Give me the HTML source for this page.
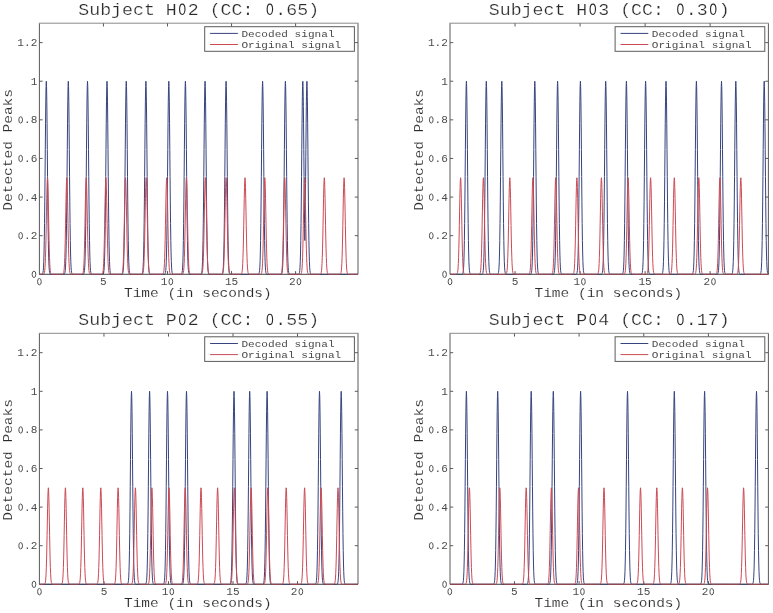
<!DOCTYPE html><html><head><meta charset="utf-8"><style>html,body{margin:0;padding:0;background:#fff;overflow:hidden}svg{display:block}text{font-family:"Liberation Mono",monospace;paint-order:fill stroke}</style></head><body>
<svg width="773" height="613" viewBox="0 0 773 613">
<rect width="773" height="613" fill="#fff"/>
<defs><filter id="soft" x="0" y="0" width="1" height="1"><feGaussianBlur stdDeviation="0.35"/></filter></defs><g filter="url(#soft)"><rect width="773" height="613" fill="#fff"/>
<g><path d="M39.4 23.3V274.3H358V23.3" fill="none" stroke="#5a5a5a" stroke-width="1" stroke-linejoin="miter"/><path d="M38.9 23.2H358.5" fill="none" stroke="#8a8a8a" stroke-width="1"/><path d="M103.44 274.3V271.1M103.44 23.3V26.5M167.49 274.3V271.1M167.49 23.3V26.5M231.55 274.3V271.1M231.55 23.3V26.5M295.6 274.3V271.1M295.6 23.3V26.5M39.4 235.68H42.6M358 235.68H354.8M39.4 197.07H42.6M358 197.07H354.8M39.4 158.45H42.6M358 158.45H354.8M39.4 119.84H42.6M358 119.84H354.8M39.4 81.22H42.6M358 81.22H354.8M39.4 42.61H42.6M358 42.61H354.8" stroke="#5a5a5a" stroke-width="1" fill="none"/><path d="M39.4 274.3L41.76 274.27L42.02 274.23L42.27 274.12L42.52 273.88L42.77 273.37L43.02 272.36L43.28 270.47L43.53 267.14L43.78 261.61L44.03 253.01L44.28 240.49L44.54 223.43L44.79 201.84L45.04 176.54L45.29 149.4L45.54 123.18L45.8 101.14L46.05 86.41L46.3 81.22L46.55 86.41L46.8 101.14L47.06 123.18L47.31 149.4L47.56 176.54L47.81 201.84L48.06 223.43L48.32 240.49L48.57 253.01L48.82 261.61L49.07 267.14L49.32 270.47L49.58 272.36L49.83 273.37L50.08 273.88L50.33 274.12L50.58 274.23L50.84 274.3L63.76 274.27L64.02 274.23L64.27 274.12L64.52 273.88L64.77 273.37L65.02 272.36L65.28 270.47L65.53 267.14L65.78 261.61L66.03 253.01L66.28 240.49L66.54 223.43L66.79 201.84L67.04 176.54L67.29 149.4L67.54 123.18L67.8 101.14L68.05 86.41L68.3 81.22L68.55 86.41L68.8 101.14L69.06 123.18L69.31 149.4L69.56 176.54L69.81 201.84L70.06 223.43L70.32 240.49L70.57 253.01L70.82 261.61L71.07 267.14L71.32 270.47L71.58 272.36L71.83 273.37L72.08 273.88L72.33 274.12L72.58 274.23L72.84 274.3L82.96 274.3L83.22 274.23L83.47 274.12L83.72 273.88L83.97 273.37L84.22 272.36L84.48 270.47L84.73 267.14L84.98 261.61L85.23 253.01L85.48 240.49L85.74 223.43L85.99 201.84L86.24 176.54L86.49 149.4L86.74 123.18L87 101.14L87.25 86.41L87.5 81.22L87.75 86.41L88 101.14L88.26 123.18L88.51 149.4L88.76 176.54L89.01 201.84L89.26 223.43L89.52 240.49L89.77 253.01L90.02 261.61L90.27 267.14L90.52 270.47L90.78 272.36L91.03 273.37L91.28 273.88L91.53 274.12L91.78 274.23L92.04 274.3L102.46 274.3L102.72 274.23L102.97 274.12L103.22 273.88L103.47 273.37L103.72 272.36L103.98 270.47L104.23 267.14L104.48 261.61L104.73 253.01L104.98 240.49L105.24 223.43L105.49 201.84L105.74 176.54L105.99 149.4L106.24 123.18L106.5 101.14L106.75 86.41L107 81.22L107.25 86.41L107.5 101.14L107.76 123.18L108.01 149.4L108.26 176.54L108.51 201.84L108.76 223.43L109.02 240.49L109.27 253.01L109.52 261.61L109.77 267.14L110.02 270.47L110.28 272.36L110.53 273.37L110.78 273.88L111.03 274.12L111.28 274.23L111.54 274.3L121.71 274.3L121.97 274.23L122.22 274.12L122.47 273.88L122.72 273.37L122.97 272.36L123.23 270.47L123.48 267.14L123.73 261.61L123.98 253.01L124.23 240.49L124.49 223.43L124.74 201.84L124.99 176.54L125.24 149.4L125.49 123.18L125.75 101.14L126 86.41L126.25 81.22L126.5 86.41L126.75 101.14L127.01 123.18L127.26 149.4L127.51 176.54L127.76 201.84L128.01 223.43L128.27 240.49L128.52 253.01L128.77 261.61L129.02 267.14L129.27 270.47L129.53 272.36L129.78 273.37L130.03 273.88L130.28 274.12L130.53 274.23L130.79 274.3L141.36 274.3L141.62 274.23L141.87 274.12L142.12 273.88L142.37 273.37L142.62 272.36L142.88 270.47L143.13 267.14L143.38 261.61L143.63 253.01L143.88 240.49L144.14 223.43L144.39 201.84L144.64 176.54L144.89 149.4L145.14 123.18L145.4 101.14L145.65 86.41L145.9 81.22L146.15 86.41L146.4 101.14L146.66 123.18L146.91 149.4L147.16 176.54L147.41 201.84L147.66 223.43L147.92 240.49L148.17 253.01L148.42 261.61L148.67 267.14L148.92 270.47L149.18 272.36L149.43 273.37L149.68 273.88L149.93 274.12L150.18 274.23L150.44 274.3L164.26 274.3L164.52 274.23L164.77 274.12L165.02 273.88L165.27 273.37L165.52 272.36L165.78 270.47L166.03 267.14L166.28 261.61L166.53 253.01L166.78 240.49L167.04 223.43L167.29 201.84L167.54 176.54L167.79 149.4L168.04 123.18L168.3 101.14L168.55 86.41L168.8 81.22L169.05 86.41L169.3 101.14L169.56 123.18L169.81 149.4L170.06 176.54L170.31 201.84L170.56 223.43L170.82 240.49L171.07 253.01L171.32 261.61L171.57 267.14L171.82 270.47L172.08 272.36L172.33 273.37L172.58 273.88L172.83 274.12L173.08 274.23L173.34 274.3L180.86 274.3L181.12 274.23L181.37 274.12L181.62 273.88L181.87 273.37L182.12 272.36L182.38 270.47L182.63 267.14L182.88 261.61L183.13 253.01L183.38 240.49L183.64 223.43L183.89 201.84L184.14 176.54L184.39 149.4L184.64 123.18L184.9 101.14L185.15 86.41L185.4 81.22L185.65 86.41L185.9 101.14L186.16 123.18L186.41 149.4L186.66 176.54L186.91 201.84L187.16 223.43L187.42 240.49L187.67 253.01L187.92 261.61L188.17 267.14L188.42 270.47L188.68 272.36L188.93 273.37L189.18 273.88L189.43 274.12L189.68 274.23L189.94 274.3L200.51 274.3L200.77 274.23L201.02 274.12L201.27 273.88L201.52 273.37L201.77 272.36L202.03 270.47L202.28 267.14L202.53 261.61L202.78 253.01L203.03 240.49L203.29 223.43L203.54 201.84L203.79 176.54L204.04 149.4L204.29 123.18L204.55 101.14L204.8 86.41L205.05 81.22L205.3 86.41L205.55 101.14L205.81 123.18L206.06 149.4L206.31 176.54L206.56 201.84L206.81 223.43L207.07 240.49L207.32 253.01L207.57 261.61L207.82 267.14L208.07 270.47L208.33 272.36L208.58 273.37L208.83 273.88L209.08 274.12L209.33 274.23L209.59 274.3L221.53 274.3L221.79 274.23L222.04 274.12L222.29 273.88L222.54 273.37L222.79 272.36L223.05 270.47L223.3 267.14L223.55 261.61L223.8 253.01L224.05 240.49L224.31 223.43L224.56 201.84L224.81 176.54L225.06 149.4L225.31 123.18L225.57 101.14L225.82 86.41L226.07 81.22L226.32 86.41L226.57 101.14L226.83 123.18L227.08 149.4L227.33 176.54L227.58 201.84L227.83 223.43L228.09 240.49L228.34 253.01L228.59 261.61L228.84 267.14L229.09 270.47L229.35 272.36L229.6 273.37L229.85 273.88L230.1 274.12L230.35 274.23L230.61 274.3L258.06 274.3L258.32 274.23L258.57 274.12L258.82 273.88L259.07 273.37L259.32 272.36L259.58 270.47L259.83 267.14L260.08 261.61L260.33 253.01L260.58 240.49L260.84 223.43L261.09 201.84L261.34 176.54L261.59 149.4L261.84 123.18L262.1 101.14L262.35 86.41L262.6 81.22L262.85 86.41L263.1 101.14L263.36 123.18L263.61 149.4L263.86 176.54L264.11 201.84L264.36 223.43L264.62 240.49L264.87 253.01L265.12 261.61L265.37 267.14L265.62 270.47L265.88 272.36L266.13 273.37L266.38 273.88L266.63 274.12L266.88 274.23L267.14 274.3L280.86 274.3L281.12 274.23L281.37 274.12L281.62 273.88L281.87 273.37L282.12 272.36L282.38 270.47L282.63 267.14L282.88 261.61L283.13 253.01L283.38 240.49L283.64 223.43L283.89 201.84L284.14 176.54L284.39 149.4L284.64 123.18L284.9 101.14L285.15 86.41L285.4 81.22L285.65 86.41L285.9 101.14L286.16 123.18L286.41 149.4L286.66 176.54L286.91 201.84L287.16 223.43L287.42 240.49L287.67 253.01L287.92 261.61L288.17 267.14L288.42 270.47L288.68 272.36L288.93 273.37L289.18 273.88L289.43 274.12L289.68 274.23L289.94 274.3L298.26 274.3L298.52 274.23L298.77 274.12L299.02 273.88L299.27 273.37L299.52 272.36L299.78 270.47L300.03 267.14L300.28 261.61L300.53 253.01L300.78 240.49L301.04 223.43L301.29 201.84L301.54 176.54L301.79 149.4L302.04 123.18L302.3 101.14L302.36 96.33L302.55 86.41L302.62 84L302.8 81.22L302.87 81.61L303.05 86.41L303.12 89.52L303.3 101.14L303.37 106.49L303.56 123.18L303.62 129.98L303.81 149.4L303.88 156.76L304.06 176.54L304.13 183.64L304.31 201.84L304.38 208.08L304.56 223.43L304.63 228.5L304.82 240.49L304.88 240.49L305.07 228.5L305.14 223.43L305.32 208.08L305.39 201.84L305.57 183.64L305.64 176.54L305.82 156.76L305.89 149.4L306.08 129.98L306.14 123.18L306.33 106.49L306.4 101.14L306.58 89.52L306.65 86.41L306.83 81.61L306.9 81.22L307.08 84L307.15 86.41L307.34 96.33L307.4 101.14L307.66 123.18L307.91 149.4L308.16 176.54L308.41 201.84L308.66 223.43L308.92 240.49L309.17 253.01L309.42 261.61L309.67 267.14L309.92 270.47L310.18 272.36L310.43 273.37L310.68 273.88L310.93 274.12L311.18 274.23L311.44 274.3L358 274.3" stroke="#36447f" stroke-width="1" fill="none" stroke-linejoin="round"/><path d="M39.4 274.3L42.96 274.3L43.22 274.26L43.47 274.21L43.72 274.09L43.97 273.83L44.22 273.33L44.48 272.38L44.73 270.72L44.98 267.95L45.23 263.66L45.48 257.39L45.74 248.87L45.99 238.07L46.24 225.42L46.49 211.85L46.74 198.74L47 187.72L47.25 180.35L47.5 177.76L47.75 180.35L48 187.72L48.26 198.74L48.51 211.85L48.76 225.42L49.01 238.07L49.26 248.87L49.52 257.39L49.77 263.66L50.02 267.95L50.27 270.72L50.52 272.38L50.78 273.33L51.03 273.83L51.28 274.09L51.53 274.21L51.78 274.26L52.04 274.3L62.26 274.29L62.52 274.26L62.77 274.21L63.02 274.09L63.27 273.83L63.52 273.33L63.78 272.38L64.03 270.72L64.28 267.95L64.53 263.66L64.78 257.39L65.04 248.87L65.29 238.07L65.54 225.42L65.79 211.85L66.04 198.74L66.3 187.72L66.55 180.35L66.8 177.76L67.05 180.35L67.3 187.72L67.56 198.74L67.81 211.85L68.06 225.42L68.31 238.07L68.56 248.87L68.82 257.39L69.07 263.66L69.32 267.95L69.57 270.72L69.82 272.38L70.08 273.33L70.33 273.83L70.58 274.09L70.83 274.21L71.08 274.26L71.34 274.3L81.66 274.3L81.92 274.26L82.17 274.21L82.42 274.09L82.67 273.83L82.92 273.33L83.18 272.38L83.43 270.72L83.68 267.95L83.93 263.66L84.18 257.39L84.44 248.87L84.69 238.07L84.94 225.42L85.19 211.85L85.44 198.74L85.7 187.72L85.95 180.35L86.2 177.76L86.45 180.35L86.7 187.72L86.96 198.74L87.21 211.85L87.46 225.42L87.71 238.07L87.96 248.87L88.22 257.39L88.47 263.66L88.72 267.95L88.97 270.72L89.22 272.38L89.48 273.33L89.73 273.83L89.98 274.09L90.23 274.21L90.48 274.26L90.74 274.3L101.36 274.3L101.62 274.26L101.87 274.21L102.12 274.09L102.37 273.83L102.62 273.33L102.88 272.38L103.13 270.72L103.38 267.95L103.63 263.66L103.88 257.39L104.14 248.87L104.39 238.07L104.64 225.42L104.89 211.85L105.14 198.74L105.4 187.72L105.65 180.35L105.9 177.76L106.15 180.35L106.4 187.72L106.66 198.74L106.91 211.85L107.16 225.42L107.41 238.07L107.66 248.87L107.92 257.39L108.17 263.66L108.42 267.95L108.67 270.72L108.92 272.38L109.18 273.33L109.43 273.83L109.68 274.09L109.93 274.21L110.18 274.26L110.44 274.3L120.96 274.3L121.22 274.26L121.47 274.21L121.72 274.09L121.97 273.83L122.22 273.33L122.48 272.38L122.73 270.72L122.98 267.95L123.23 263.66L123.48 257.39L123.74 248.87L123.99 238.07L124.24 225.42L124.49 211.85L124.74 198.74L125 187.72L125.25 180.35L125.5 177.76L125.75 180.35L126 187.72L126.26 198.74L126.51 211.85L126.76 225.42L127.01 238.07L127.26 248.87L127.52 257.39L127.77 263.66L128.02 267.95L128.27 270.72L128.52 272.38L128.78 273.33L129.03 273.83L129.28 274.09L129.53 274.21L129.78 274.26L130.04 274.3L141.66 274.3L141.92 274.26L142.17 274.21L142.42 274.09L142.67 273.83L142.92 273.33L143.18 272.38L143.43 270.72L143.68 267.95L143.93 263.66L144.18 257.39L144.44 248.87L144.69 238.07L144.94 225.42L145.19 211.85L145.44 198.74L145.7 187.72L145.95 180.35L146.2 177.76L146.45 180.35L146.7 187.72L146.96 198.74L147.21 211.85L147.46 225.42L147.71 238.07L147.96 248.87L148.22 257.39L148.47 263.66L148.72 267.95L148.97 270.72L149.22 272.38L149.48 273.33L149.73 273.83L149.98 274.09L150.23 274.21L150.48 274.26L150.74 274.3L162.16 274.3L162.42 274.26L162.67 274.21L162.92 274.09L163.17 273.83L163.42 273.33L163.68 272.38L163.93 270.72L164.18 267.95L164.43 263.66L164.68 257.39L164.94 248.87L165.19 238.07L165.44 225.42L165.69 211.85L165.94 198.74L166.2 187.72L166.45 180.35L166.7 177.76L166.95 180.35L167.2 187.72L167.46 198.74L167.71 211.85L167.96 225.42L168.21 238.07L168.46 248.87L168.72 257.39L168.97 263.66L169.22 267.95L169.47 270.72L169.72 272.38L169.98 273.33L170.23 273.83L170.48 274.09L170.73 274.21L170.98 274.26L171.24 274.3L181.86 274.3L182.12 274.26L182.37 274.21L182.62 274.09L182.87 273.83L183.12 273.33L183.38 272.38L183.63 270.72L183.88 267.95L184.13 263.66L184.38 257.39L184.64 248.87L184.89 238.07L185.14 225.42L185.39 211.85L185.64 198.74L185.9 187.72L186.15 180.35L186.4 177.76L186.65 180.35L186.9 187.72L187.16 198.74L187.41 211.85L187.66 225.42L187.91 238.07L188.16 248.87L188.42 257.39L188.67 263.66L188.92 267.95L189.17 270.72L189.42 272.38L189.68 273.33L189.93 273.83L190.18 274.09L190.43 274.21L190.68 274.26L190.94 274.3L200.86 274.3L201.12 274.26L201.37 274.21L201.62 274.09L201.87 273.83L202.12 273.33L202.38 272.38L202.63 270.72L202.88 267.95L203.13 263.66L203.38 257.39L203.64 248.87L203.89 238.07L204.14 225.42L204.39 211.85L204.64 198.74L204.9 187.72L205.15 180.35L205.4 177.76L205.65 180.35L205.9 187.72L206.16 198.74L206.41 211.85L206.66 225.42L206.91 238.07L207.16 248.87L207.42 257.39L207.67 263.66L207.92 267.95L208.17 270.72L208.42 272.38L208.68 273.33L208.93 273.83L209.18 274.09L209.43 274.21L209.68 274.26L209.94 274.3L221.56 274.3L221.82 274.26L222.07 274.21L222.32 274.09L222.57 273.83L222.82 273.33L223.08 272.38L223.33 270.72L223.58 267.95L223.83 263.66L224.08 257.39L224.34 248.87L224.59 238.07L224.84 225.42L225.09 211.85L225.34 198.74L225.6 187.72L225.85 180.35L226.1 177.76L226.35 180.35L226.6 187.72L226.86 198.74L227.11 211.85L227.36 225.42L227.61 238.07L227.86 248.87L228.12 257.39L228.37 263.66L228.62 267.95L228.87 270.72L229.12 272.38L229.38 273.33L229.63 273.83L229.88 274.09L230.13 274.21L230.38 274.26L230.64 274.3L240.46 274.3L240.72 274.26L240.97 274.21L241.22 274.09L241.47 273.83L241.72 273.33L241.98 272.38L242.23 270.72L242.48 267.95L242.73 263.66L242.98 257.39L243.24 248.87L243.49 238.07L243.74 225.42L243.99 211.85L244.24 198.74L244.5 187.72L244.75 180.35L245 177.76L245.25 180.35L245.5 187.72L245.76 198.74L246.01 211.85L246.26 225.42L246.51 238.07L246.76 248.87L247.02 257.39L247.27 263.66L247.52 267.95L247.77 270.72L248.02 272.38L248.28 273.33L248.53 273.83L248.78 274.09L249.03 274.21L249.28 274.26L249.54 274.3L260.26 274.3L260.52 274.26L260.77 274.21L261.02 274.09L261.27 273.83L261.52 273.33L261.78 272.38L262.03 270.72L262.28 267.95L262.53 263.66L262.78 257.39L263.04 248.87L263.29 238.07L263.54 225.42L263.79 211.85L264.04 198.74L264.3 187.72L264.55 180.35L264.8 177.76L265.05 180.35L265.3 187.72L265.56 198.74L265.81 211.85L266.06 225.42L266.31 238.07L266.56 248.87L266.82 257.39L267.07 263.66L267.32 267.95L267.57 270.72L267.82 272.38L268.08 273.33L268.33 273.83L268.58 274.09L268.83 274.21L269.08 274.26L269.34 274.3L280.16 274.3L280.42 274.26L280.67 274.21L280.92 274.09L281.17 273.83L281.42 273.33L281.68 272.38L281.93 270.72L282.18 267.95L282.43 263.66L282.68 257.39L282.94 248.87L283.19 238.07L283.44 225.42L283.69 211.85L283.94 198.74L284.2 187.72L284.45 180.35L284.7 177.76L284.95 180.35L285.2 187.72L285.46 198.74L285.71 211.85L285.96 225.42L286.21 238.07L286.46 248.87L286.72 257.39L286.97 263.66L287.22 267.95L287.47 270.72L287.72 272.38L287.98 273.33L288.23 273.83L288.48 274.09L288.73 274.21L288.98 274.26L289.24 274.3L300.06 274.3L300.32 274.26L300.57 274.21L300.82 274.09L301.07 273.83L301.32 273.33L301.58 272.38L301.83 270.72L302.08 267.95L302.33 263.66L302.58 257.39L302.84 248.87L303.09 238.07L303.34 225.42L303.59 211.85L303.84 198.74L304.1 187.72L304.35 180.35L304.6 177.76L304.85 180.35L305.1 187.72L305.36 198.74L305.61 211.85L305.86 225.42L306.11 238.07L306.36 248.87L306.62 257.39L306.87 263.66L307.12 267.95L307.37 270.72L307.62 272.38L307.88 273.33L308.13 273.83L308.38 274.09L308.63 274.21L308.88 274.26L309.14 274.3L319.76 274.3L320.02 274.26L320.27 274.21L320.52 274.09L320.77 273.83L321.02 273.33L321.28 272.38L321.53 270.72L321.78 267.95L322.03 263.66L322.28 257.39L322.54 248.87L322.79 238.07L323.04 225.42L323.29 211.85L323.54 198.74L323.8 187.72L324.05 180.35L324.3 177.76L324.55 180.35L324.8 187.72L325.06 198.74L325.31 211.85L325.56 225.42L325.81 238.07L326.06 248.87L326.32 257.39L326.57 263.66L326.82 267.95L327.07 270.72L327.32 272.38L327.58 273.33L327.83 273.83L328.08 274.09L328.33 274.21L328.58 274.26L328.84 274.3L339.56 274.3L339.82 274.26L340.07 274.21L340.32 274.09L340.57 273.83L340.82 273.33L341.08 272.38L341.33 270.72L341.58 267.95L341.83 263.66L342.08 257.39L342.34 248.87L342.59 238.07L342.84 225.42L343.09 211.85L343.34 198.74L343.6 187.72L343.85 180.35L344.1 177.76L344.35 180.35L344.6 187.72L344.86 198.74L345.11 211.85L345.36 225.42L345.61 238.07L345.86 248.87L346.12 257.39L346.37 263.66L346.62 267.95L346.87 270.72L347.12 272.38L347.38 273.33L347.63 273.83L347.88 274.09L348.13 274.21L348.38 274.26L348.64 274.3L358 274.3" stroke="#cc4a54" stroke-width="1" fill="none" stroke-linejoin="round"/><path d="M39.4 274.3H358" stroke="#444" stroke-opacity="0.4" stroke-width="1"/><ellipse cx="33.97" cy="274.35" rx="1.85" ry="3.2" fill="none" stroke="#4a4a4a" stroke-width="0.95"/><text y="259.98" font-size="11.1" transform="scale(1,0.92)" fill="#4a4a4a" ><tspan x="23.98">.2</tspan></text><ellipse cx="20.65" cy="235.73" rx="1.85" ry="3.2" fill="none" stroke="#4a4a4a" stroke-width="0.95"/><text y="218.01" font-size="11.1" transform="scale(1,0.92)" fill="#4a4a4a" ><tspan x="23.98">.4</tspan></text><ellipse cx="20.65" cy="197.12" rx="1.85" ry="3.2" fill="none" stroke="#4a4a4a" stroke-width="0.95"/><text y="176.04" font-size="11.1" transform="scale(1,0.92)" fill="#4a4a4a" ><tspan x="23.98">.6</tspan></text><ellipse cx="20.65" cy="158.5" rx="1.85" ry="3.2" fill="none" stroke="#4a4a4a" stroke-width="0.95"/><text y="134.06" font-size="11.1" transform="scale(1,0.92)" fill="#4a4a4a" ><tspan x="23.98">.8</tspan></text><ellipse cx="20.65" cy="119.89" rx="1.85" ry="3.2" fill="none" stroke="#4a4a4a" stroke-width="0.95"/><text y="92.09" font-size="11.1" transform="scale(1,0.92)" fill="#4a4a4a" ><tspan x="30.64">1</tspan></text><text y="50.12" font-size="11.1" transform="scale(1,0.92)" fill="#4a4a4a" ><tspan x="17.32">1.2</tspan></text><ellipse cx="39.39" cy="281.65" rx="1.85" ry="3.2" fill="none" stroke="#4a4a4a" stroke-width="0.95"/><text y="309.89" font-size="11.1" transform="scale(1,0.92)" fill="#4a4a4a" ><tspan x="100.11">5</tspan></text><text y="309.89" font-size="11.1" transform="scale(1,0.92)" fill="#4a4a4a" ><tspan x="160.83">1</tspan></text><ellipse cx="170.82" cy="281.65" rx="1.85" ry="3.2" fill="none" stroke="#4a4a4a" stroke-width="0.95"/><text y="309.89" font-size="11.1" transform="scale(1,0.92)" fill="#4a4a4a" ><tspan x="224.89">15</tspan></text><text y="309.89" font-size="11.1" transform="scale(1,0.92)" fill="#4a4a4a" ><tspan x="288.94">2</tspan></text><ellipse cx="298.93" cy="281.65" rx="1.85" ry="3.2" fill="none" stroke="#4a4a4a" stroke-width="0.95"/><text y="16.67" font-size="18.25" transform="scale(1,0.9)" fill="#2a2a2a" stroke="#fff" stroke-width="0.25" ><tspan x="78.25">Subject H</tspan><tspan x="187.75">2 (CC: </tspan><tspan x="275.35">.65)</tspan></text><ellipse cx="182.28" cy="9.34" rx="2.7" ry="5.15" fill="none" stroke="#2a2a2a" stroke-width="1.13"/><ellipse cx="269.88" cy="9.34" rx="2.7" ry="5.15" fill="none" stroke="#2a2a2a" stroke-width="1.13"/><text y="349.06" font-size="14.5" transform="scale(1,0.85)" fill="#2a2a2a" stroke="#fff" stroke-width="0.15" ><tspan x="124">Time (in seconds)</tspan></text><g transform="translate(12,149.85) rotate(-90)"><text x="0" y="0" font-size="14.5" text-anchor="middle" transform="scale(1,0.85)" fill="#2a2a2a" stroke="#fff" stroke-width="0.15">Detected Peaks</text></g><rect x="204.7" y="26.7" width="149.7" height="24.6" fill="#fff" stroke="#5a5a5a" stroke-width="1"/><path d="M210.1 33.4H237.9" stroke="#36447f" stroke-width="1"/><path d="M210.1 44.5H237.9" stroke="#cc4a54" stroke-width="1"/><text y="40.89" font-size="11.1" transform="scale(1,0.9)" fill="#4a4a4a" ><tspan x="241.4">Decoded signal</tspan></text><text y="53.56" font-size="11.1" transform="scale(1,0.9)" fill="#4a4a4a" ><tspan x="241.4">Original signal</tspan></text></g>
<g><path d="M450 23.3V274.3H768.4V23.3" fill="none" stroke="#5a5a5a" stroke-width="1" stroke-linejoin="miter"/><path d="M449.5 23.2H768.9" fill="none" stroke="#8a8a8a" stroke-width="1"/><path d="M515.04 274.3V271.1M515.04 23.3V26.5M580.07 274.3V271.1M580.07 23.3V26.5M645.11 274.3V271.1M645.11 23.3V26.5M710.14 274.3V271.1M710.14 23.3V26.5M450 235.68H453.2M768.4 235.68H765.2M450 197.07H453.2M768.4 197.07H765.2M450 158.45H453.2M768.4 158.45H765.2M450 119.84H453.2M768.4 119.84H765.2M450 81.22H453.2M768.4 81.22H765.2M450 42.61H453.2M768.4 42.61H765.2" stroke="#5a5a5a" stroke-width="1" fill="none"/><path d="M450 274.3L461.86 274.3L462.12 274.23L462.37 274.12L462.62 273.88L462.87 273.37L463.12 272.36L463.38 270.47L463.63 267.14L463.88 261.61L464.13 253.01L464.38 240.49L464.64 223.43L464.89 201.84L465.14 176.54L465.39 149.4L465.64 123.18L465.9 101.14L466.15 86.41L466.4 81.22L466.65 86.41L466.9 101.14L467.16 123.18L467.41 149.4L467.66 176.54L467.91 201.84L468.16 223.43L468.42 240.49L468.67 253.01L468.92 261.61L469.17 267.14L469.42 270.47L469.68 272.36L469.93 273.37L470.18 273.88L470.43 274.12L470.68 274.23L470.94 274.3L481.76 274.3L482.02 274.23L482.27 274.12L482.52 273.88L482.77 273.37L483.02 272.36L483.28 270.47L483.53 267.14L483.78 261.61L484.03 253.01L484.28 240.49L484.54 223.43L484.79 201.84L485.04 176.54L485.29 149.4L485.54 123.18L485.8 101.14L486.05 86.41L486.3 81.22L486.55 86.41L486.8 101.14L487.06 123.18L487.31 149.4L487.56 176.54L487.81 201.84L488.06 223.43L488.32 240.49L488.57 253.01L488.82 261.61L489.07 267.14L489.32 270.47L489.58 272.36L489.83 273.37L490.08 273.88L490.33 274.12L490.58 274.23L490.84 274.3L497.26 274.3L497.52 274.23L497.77 274.12L498.02 273.88L498.27 273.37L498.52 272.36L498.78 270.47L499.03 267.14L499.28 261.61L499.53 253.01L499.78 240.49L500.04 223.43L500.29 201.84L500.54 176.54L500.79 149.4L501.04 123.18L501.3 101.14L501.55 86.41L501.8 81.22L502.05 86.41L502.3 101.14L502.56 123.18L502.81 149.4L503.06 176.54L503.31 201.84L503.56 223.43L503.82 240.49L504.07 253.01L504.32 261.61L504.57 267.14L504.82 270.47L505.08 272.36L505.33 273.37L505.58 273.88L505.83 274.12L506.08 274.23L506.34 274.3L530.26 274.27L530.52 274.23L530.77 274.12L531.02 273.88L531.27 273.37L531.52 272.36L531.78 270.47L532.03 267.14L532.28 261.61L532.53 253.01L532.78 240.49L533.04 223.43L533.29 201.84L533.54 176.54L533.79 149.4L534.04 123.18L534.3 101.14L534.55 86.41L534.8 81.22L535.05 86.41L535.3 101.14L535.56 123.18L535.81 149.4L536.06 176.54L536.31 201.84L536.56 223.43L536.82 240.49L537.07 253.01L537.32 261.61L537.57 267.14L537.82 270.47L538.08 272.36L538.33 273.37L538.58 273.88L538.83 274.12L539.08 274.23L539.34 274.3L553.06 274.3L553.32 274.23L553.57 274.12L553.82 273.88L554.07 273.37L554.32 272.36L554.58 270.47L554.83 267.14L555.08 261.61L555.33 253.01L555.58 240.49L555.84 223.43L556.09 201.84L556.34 176.54L556.59 149.4L556.84 123.18L557.1 101.14L557.35 86.41L557.6 81.22L557.85 86.41L558.1 101.14L558.36 123.18L558.61 149.4L558.86 176.54L559.11 201.84L559.36 223.43L559.62 240.49L559.87 253.01L560.12 261.61L560.37 267.14L560.62 270.47L560.88 272.36L561.13 273.37L561.38 273.88L561.63 274.12L561.88 274.23L562.14 274.27L575.86 274.27L576.12 274.23L576.37 274.12L576.62 273.88L576.87 273.37L577.12 272.36L577.38 270.47L577.63 267.14L577.88 261.61L578.13 253.01L578.38 240.49L578.64 223.43L578.89 201.84L579.14 176.54L579.39 149.4L579.64 123.18L579.9 101.14L580.15 86.41L580.4 81.22L580.65 86.41L580.9 101.14L581.16 123.18L581.41 149.4L581.66 176.54L581.91 201.84L582.16 223.43L582.42 240.49L582.67 253.01L582.92 261.61L583.17 267.14L583.42 270.47L583.68 272.36L583.93 273.37L584.18 273.88L584.43 274.12L584.68 274.23L584.94 274.3L601.16 274.3L601.42 274.23L601.67 274.12L601.92 273.88L602.17 273.37L602.42 272.36L602.68 270.47L602.93 267.14L603.18 261.61L603.43 253.01L603.68 240.49L603.94 223.43L604.19 201.84L604.44 176.54L604.69 149.4L604.94 123.18L605.2 101.14L605.45 86.41L605.7 81.22L605.95 86.41L606.2 101.14L606.46 123.18L606.71 149.4L606.96 176.54L607.21 201.84L607.46 223.43L607.72 240.49L607.97 253.01L608.22 261.61L608.47 267.14L608.72 270.47L608.98 272.36L609.23 273.37L609.48 273.88L609.73 274.12L609.98 274.23L610.24 274.27L621.86 274.27L622.12 274.23L622.37 274.12L622.62 273.88L622.87 273.37L623.12 272.36L623.38 270.47L623.63 267.14L623.88 261.61L624.13 253.01L624.38 240.49L624.64 223.43L624.89 201.84L625.14 176.54L625.39 149.4L625.64 123.18L625.9 101.14L626.15 86.41L626.4 81.22L626.65 86.41L626.9 101.14L627.16 123.18L627.41 149.4L627.66 176.54L627.91 201.84L628.16 223.43L628.42 240.49L628.67 253.01L628.92 261.61L629.17 267.14L629.42 270.47L629.68 272.36L629.93 273.37L630.18 273.88L630.43 274.12L630.68 274.23L630.94 274.3L641.06 274.3L641.32 274.23L641.57 274.12L641.82 273.88L642.07 273.37L642.32 272.36L642.58 270.47L642.83 267.14L643.08 261.61L643.33 253.01L643.58 240.49L643.84 223.43L644.09 201.84L644.34 176.54L644.59 149.4L644.84 123.18L645.1 101.14L645.35 86.41L645.6 81.22L645.85 86.41L646.1 101.14L646.36 123.18L646.61 149.4L646.86 176.54L647.11 201.84L647.36 223.43L647.62 240.49L647.87 253.01L648.12 261.61L648.37 267.14L648.62 270.47L648.88 272.36L649.13 273.37L649.38 273.88L649.63 274.12L649.88 274.23L650.14 274.27L661.46 274.27L661.72 274.23L661.97 274.12L662.22 273.88L662.47 273.37L662.72 272.36L662.98 270.47L663.23 267.14L663.48 261.61L663.73 253.01L663.98 240.49L664.24 223.43L664.49 201.84L664.74 176.54L664.99 149.4L665.24 123.18L665.5 101.14L665.75 86.41L666 81.22L666.25 86.41L666.5 101.14L666.76 123.18L667.01 149.4L667.26 176.54L667.51 201.84L667.76 223.43L668.02 240.49L668.27 253.01L668.52 261.61L668.77 267.14L669.02 270.47L669.28 272.36L669.53 273.37L669.78 273.88L670.03 274.12L670.28 274.23L670.54 274.27L691.86 274.27L692.12 274.23L692.37 274.12L692.62 273.88L692.87 273.37L693.12 272.36L693.38 270.47L693.63 267.14L693.88 261.61L694.13 253.01L694.38 240.49L694.64 223.43L694.89 201.84L695.14 176.54L695.39 149.4L695.64 123.18L695.9 101.14L696.15 86.41L696.4 81.22L696.65 86.41L696.9 101.14L697.16 123.18L697.41 149.4L697.66 176.54L697.91 201.84L698.16 223.43L698.42 240.49L698.67 253.01L698.92 261.61L699.17 267.14L699.42 270.47L699.68 272.36L699.93 273.37L700.18 273.88L700.43 274.12L700.68 274.23L700.94 274.3L716.96 274.27L717.22 274.23L717.47 274.12L717.72 273.88L717.97 273.37L718.22 272.36L718.48 270.47L718.73 267.14L718.98 261.61L719.23 253.01L719.48 240.49L719.74 223.43L719.99 201.84L720.24 176.54L720.49 149.4L720.74 123.18L721 101.14L721.25 86.41L721.5 81.22L721.75 86.41L722 101.14L722.26 123.18L722.51 149.4L722.76 176.54L723.01 201.84L723.26 223.43L723.52 240.49L723.77 253.01L724.02 261.61L724.27 267.14L724.52 270.47L724.78 272.36L725.03 273.37L725.28 273.88L725.53 274.12L725.78 274.23L726.04 274.27L731.26 274.27L731.52 274.23L731.77 274.12L732.02 273.88L732.27 273.37L732.52 272.36L732.78 270.47L733.03 267.14L733.28 261.61L733.53 253.01L733.78 240.49L734.04 223.43L734.29 201.84L734.54 176.54L734.79 149.4L735.04 123.18L735.3 101.14L735.55 86.41L735.8 81.22L736.05 86.41L736.3 101.14L736.56 123.18L736.81 149.4L737.06 176.54L737.31 201.84L737.56 223.43L737.82 240.49L738.07 253.01L738.32 261.61L738.57 267.14L738.82 270.47L739.08 272.36L739.33 273.37L739.58 273.88L739.83 274.12L740.08 274.23L740.34 274.3L759.66 274.3L759.92 274.23L760.17 274.12L760.42 273.88L760.67 273.37L760.92 272.36L761.18 270.47L761.43 267.14L761.68 261.61L761.93 253.01L762.18 240.49L762.44 223.43L762.69 201.84L762.94 176.54L763.19 149.4L763.44 123.18L763.7 101.14L763.95 86.41L764.2 81.22L764.45 86.41L764.7 101.14L764.96 123.18L765.21 149.4L765.46 176.54L765.71 201.84L765.96 223.43L766.22 240.49L766.47 253.01L766.72 261.61L766.97 267.14L767.22 270.47L767.48 272.36L767.73 273.37L767.98 273.88L768.23 274.12L768.4 274.2" stroke="#36447f" stroke-width="1" fill="none" stroke-linejoin="round"/><path d="M450 274.3L456.06 274.3L456.32 274.26L456.57 274.21L456.82 274.09L457.07 273.83L457.32 273.33L457.58 272.38L457.83 270.72L458.08 267.95L458.33 263.66L458.58 257.39L458.84 248.87L459.09 238.07L459.34 225.42L459.59 211.85L459.84 198.74L460.1 187.72L460.35 180.35L460.6 177.76L460.85 180.35L461.1 187.72L461.36 198.74L461.61 211.85L461.86 225.42L462.11 238.07L462.36 248.87L462.62 257.39L462.87 263.66L463.12 267.95L463.37 270.72L463.62 272.38L463.88 273.33L464.13 273.83L464.38 274.09L464.63 274.21L464.88 274.26L465.14 274.3L478.86 274.3L479.12 274.26L479.37 274.21L479.62 274.09L479.87 273.83L480.12 273.33L480.38 272.38L480.63 270.72L480.88 267.95L481.13 263.66L481.38 257.39L481.64 248.87L481.89 238.07L482.14 225.42L482.39 211.85L482.64 198.74L482.9 187.72L483.15 180.35L483.4 177.76L483.65 180.35L483.9 187.72L484.16 198.74L484.41 211.85L484.66 225.42L484.91 238.07L485.16 248.87L485.42 257.39L485.67 263.66L485.92 267.95L486.17 270.72L486.42 272.38L486.68 273.33L486.93 273.83L487.18 274.09L487.43 274.21L487.68 274.26L487.94 274.3L505.26 274.3L505.52 274.26L505.77 274.21L506.02 274.09L506.27 273.83L506.52 273.33L506.78 272.38L507.03 270.72L507.28 267.95L507.53 263.66L507.78 257.39L508.04 248.87L508.29 238.07L508.54 225.42L508.79 211.85L509.04 198.74L509.3 187.72L509.55 180.35L509.8 177.76L510.05 180.35L510.3 187.72L510.56 198.74L510.81 211.85L511.06 225.42L511.31 238.07L511.56 248.87L511.82 257.39L512.07 263.66L512.32 267.95L512.57 270.72L512.82 272.38L513.08 273.33L513.33 273.83L513.58 274.09L513.83 274.21L514.08 274.26L514.34 274.3L528.36 274.29L528.62 274.26L528.87 274.21L529.12 274.09L529.37 273.83L529.62 273.33L529.88 272.38L530.13 270.72L530.38 267.95L530.63 263.66L530.88 257.39L531.14 248.87L531.39 238.07L531.64 225.42L531.89 211.85L532.14 198.74L532.4 187.72L532.65 180.35L532.9 177.76L533.15 180.35L533.4 187.72L533.66 198.74L533.91 211.85L534.16 225.42L534.41 238.07L534.66 248.87L534.92 257.39L535.17 263.66L535.42 267.95L535.67 270.72L535.92 272.38L536.18 273.33L536.43 273.83L536.68 274.09L536.93 274.21L537.18 274.26L537.44 274.3L551.16 274.3L551.42 274.26L551.67 274.21L551.92 274.09L552.17 273.83L552.42 273.33L552.68 272.38L552.93 270.72L553.18 267.95L553.43 263.66L553.68 257.39L553.94 248.87L554.19 238.07L554.44 225.42L554.69 211.85L554.94 198.74L555.2 187.72L555.45 180.35L555.7 177.76L555.95 180.35L556.2 187.72L556.46 198.74L556.71 211.85L556.96 225.42L557.21 238.07L557.46 248.87L557.72 257.39L557.97 263.66L558.22 267.95L558.47 270.72L558.72 272.38L558.98 273.33L559.23 273.83L559.48 274.09L559.73 274.21L559.98 274.26L560.24 274.29L572.36 274.29L572.62 274.26L572.87 274.21L573.12 274.09L573.37 273.83L573.62 273.33L573.88 272.38L574.13 270.72L574.38 267.95L574.63 263.66L574.88 257.39L575.14 248.87L575.39 238.07L575.64 225.42L575.89 211.85L576.14 198.74L576.4 187.72L576.65 180.35L576.9 177.76L577.15 180.35L577.4 187.72L577.66 198.74L577.91 211.85L578.16 225.42L578.41 238.07L578.66 248.87L578.92 257.39L579.17 263.66L579.42 267.95L579.67 270.72L579.92 272.38L580.18 273.33L580.43 273.83L580.68 274.09L580.93 274.21L581.18 274.26L581.44 274.3L596.86 274.29L597.12 274.26L597.37 274.21L597.62 274.09L597.87 273.83L598.12 273.33L598.38 272.38L598.63 270.72L598.88 267.95L599.13 263.66L599.38 257.39L599.64 248.87L599.89 238.07L600.14 225.42L600.39 211.85L600.64 198.74L600.9 187.72L601.15 180.35L601.4 177.76L601.65 180.35L601.9 187.72L602.16 198.74L602.41 211.85L602.66 225.42L602.91 238.07L603.16 248.87L603.42 257.39L603.67 263.66L603.92 267.95L604.17 270.72L604.42 272.38L604.68 273.33L604.93 273.83L605.18 274.09L605.43 274.21L605.68 274.26L605.94 274.3L623.56 274.3L623.82 274.26L624.07 274.21L624.32 274.09L624.57 273.83L624.82 273.33L625.08 272.38L625.33 270.72L625.58 267.95L625.83 263.66L626.08 257.39L626.34 248.87L626.59 238.07L626.84 225.42L627.09 211.85L627.34 198.74L627.6 187.72L627.85 180.35L628.1 177.76L628.35 180.35L628.6 187.72L628.86 198.74L629.11 211.85L629.36 225.42L629.61 238.07L629.86 248.87L630.12 257.39L630.37 263.66L630.62 267.95L630.87 270.72L631.12 272.38L631.38 273.33L631.63 273.83L631.88 274.09L632.13 274.21L632.38 274.26L632.64 274.29L646.06 274.3L646.32 274.26L646.57 274.21L646.82 274.09L647.07 273.83L647.32 273.33L647.58 272.38L647.83 270.72L648.08 267.95L648.33 263.66L648.58 257.39L648.84 248.87L649.09 238.07L649.34 225.42L649.59 211.85L649.84 198.74L650.1 187.72L650.35 180.35L650.6 177.76L650.85 180.35L651.1 187.72L651.36 198.74L651.61 211.85L651.86 225.42L652.11 238.07L652.36 248.87L652.62 257.39L652.87 263.66L653.12 267.95L653.37 270.72L653.62 272.38L653.88 273.33L654.13 273.83L654.38 274.09L654.63 274.21L654.88 274.26L655.14 274.29L669.76 274.29L670.02 274.26L670.27 274.21L670.52 274.09L670.77 273.83L671.02 273.33L671.28 272.38L671.53 270.72L671.78 267.95L672.03 263.66L672.28 257.39L672.54 248.87L672.79 238.07L673.04 225.42L673.29 211.85L673.54 198.74L673.8 187.72L674.05 180.35L674.3 177.76L674.55 180.35L674.8 187.72L675.06 198.74L675.31 211.85L675.56 225.42L675.81 238.07L676.06 248.87L676.32 257.39L676.57 263.66L676.82 267.95L677.07 270.72L677.32 272.38L677.58 273.33L677.83 273.83L678.08 274.09L678.33 274.21L678.58 274.26L678.84 274.3L694.26 274.29L694.52 274.26L694.77 274.21L695.02 274.09L695.27 273.83L695.52 273.33L695.78 272.38L696.03 270.72L696.28 267.95L696.53 263.66L696.78 257.39L697.04 248.87L697.29 238.07L697.54 225.42L697.79 211.85L698.04 198.74L698.3 187.72L698.55 180.35L698.8 177.76L699.05 180.35L699.3 187.72L699.56 198.74L699.81 211.85L700.06 225.42L700.31 238.07L700.56 248.87L700.82 257.39L701.07 263.66L701.32 267.95L701.57 270.72L701.82 272.38L702.08 273.33L702.33 273.83L702.58 274.09L702.83 274.21L703.08 274.26L703.34 274.3L715.36 274.29L715.62 274.26L715.87 274.21L716.12 274.09L716.37 273.83L716.62 273.33L716.88 272.38L717.13 270.72L717.38 267.95L717.63 263.66L717.88 257.39L718.14 248.87L718.39 238.07L718.64 225.42L718.89 211.85L719.14 198.74L719.4 187.72L719.65 180.35L719.9 177.76L720.15 180.35L720.4 187.72L720.66 198.74L720.91 211.85L721.16 225.42L721.41 238.07L721.66 248.87L721.92 257.39L722.17 263.66L722.42 267.95L722.67 270.72L722.92 272.38L723.18 273.33L723.43 273.83L723.68 274.09L723.93 274.21L724.18 274.26L724.44 274.3L736.26 274.29L736.52 274.26L736.77 274.21L737.02 274.09L737.27 273.83L737.52 273.33L737.78 272.38L738.03 270.72L738.28 267.95L738.53 263.66L738.78 257.39L739.04 248.87L739.29 238.07L739.54 225.42L739.79 211.85L740.04 198.74L740.3 187.72L740.55 180.35L740.8 177.76L741.05 180.35L741.3 187.72L741.56 198.74L741.81 211.85L742.06 225.42L742.31 238.07L742.56 248.87L742.82 257.39L743.07 263.66L743.32 267.95L743.57 270.72L743.82 272.38L744.08 273.33L744.33 273.83L744.58 274.09L744.83 274.21L745.08 274.26L745.34 274.3L768.4 274.3" stroke="#cc4a54" stroke-width="1" fill="none" stroke-linejoin="round"/><path d="M450 274.3H768.4" stroke="#444" stroke-opacity="0.4" stroke-width="1"/><ellipse cx="444.57" cy="274.35" rx="1.85" ry="3.2" fill="none" stroke="#4a4a4a" stroke-width="0.95"/><text y="259.98" font-size="11.1" transform="scale(1,0.92)" fill="#4a4a4a" ><tspan x="434.58">.2</tspan></text><ellipse cx="431.25" cy="235.73" rx="1.85" ry="3.2" fill="none" stroke="#4a4a4a" stroke-width="0.95"/><text y="218.01" font-size="11.1" transform="scale(1,0.92)" fill="#4a4a4a" ><tspan x="434.58">.4</tspan></text><ellipse cx="431.25" cy="197.12" rx="1.85" ry="3.2" fill="none" stroke="#4a4a4a" stroke-width="0.95"/><text y="176.04" font-size="11.1" transform="scale(1,0.92)" fill="#4a4a4a" ><tspan x="434.58">.6</tspan></text><ellipse cx="431.25" cy="158.5" rx="1.85" ry="3.2" fill="none" stroke="#4a4a4a" stroke-width="0.95"/><text y="134.06" font-size="11.1" transform="scale(1,0.92)" fill="#4a4a4a" ><tspan x="434.58">.8</tspan></text><ellipse cx="431.25" cy="119.89" rx="1.85" ry="3.2" fill="none" stroke="#4a4a4a" stroke-width="0.95"/><text y="92.09" font-size="11.1" transform="scale(1,0.92)" fill="#4a4a4a" ><tspan x="441.24">1</tspan></text><text y="50.12" font-size="11.1" transform="scale(1,0.92)" fill="#4a4a4a" ><tspan x="427.92">1.2</tspan></text><ellipse cx="450.01" cy="281.65" rx="1.85" ry="3.2" fill="none" stroke="#4a4a4a" stroke-width="0.95"/><text y="309.89" font-size="11.1" transform="scale(1,0.92)" fill="#4a4a4a" ><tspan x="511.71">5</tspan></text><text y="309.89" font-size="11.1" transform="scale(1,0.92)" fill="#4a4a4a" ><tspan x="573.41">1</tspan></text><ellipse cx="583.4" cy="281.65" rx="1.85" ry="3.2" fill="none" stroke="#4a4a4a" stroke-width="0.95"/><text y="309.89" font-size="11.1" transform="scale(1,0.92)" fill="#4a4a4a" ><tspan x="638.45">15</tspan></text><text y="309.89" font-size="11.1" transform="scale(1,0.92)" fill="#4a4a4a" ><tspan x="703.48">2</tspan></text><ellipse cx="713.47" cy="281.65" rx="1.85" ry="3.2" fill="none" stroke="#4a4a4a" stroke-width="0.95"/><text y="16.67" font-size="18.25" transform="scale(1,0.9)" fill="#2a2a2a" stroke="#fff" stroke-width="0.25" ><tspan x="488.75">Subject H</tspan><tspan x="598.25">3 (CC: </tspan><tspan x="685.85">.3</tspan><tspan x="718.7">)</tspan></text><ellipse cx="592.78" cy="9.34" rx="2.7" ry="5.15" fill="none" stroke="#2a2a2a" stroke-width="1.13"/><ellipse cx="680.38" cy="9.34" rx="2.7" ry="5.15" fill="none" stroke="#2a2a2a" stroke-width="1.13"/><ellipse cx="713.23" cy="9.34" rx="2.7" ry="5.15" fill="none" stroke="#2a2a2a" stroke-width="1.13"/><text y="349.06" font-size="14.5" transform="scale(1,0.85)" fill="#2a2a2a" stroke="#fff" stroke-width="0.15" ><tspan x="534.5">Time (in seconds)</tspan></text><g transform="translate(422.6,149.85) rotate(-90)"><text x="0" y="0" font-size="14.5" text-anchor="middle" transform="scale(1,0.85)" fill="#2a2a2a" stroke="#fff" stroke-width="0.15">Detected Peaks</text></g><rect x="615.1" y="26.7" width="149.7" height="24.6" fill="#fff" stroke="#5a5a5a" stroke-width="1"/><path d="M620.5 33.4H648.3" stroke="#36447f" stroke-width="1"/><path d="M620.5 44.5H648.3" stroke="#cc4a54" stroke-width="1"/><text y="40.89" font-size="11.1" transform="scale(1,0.9)" fill="#4a4a4a" ><tspan x="651.8">Decoded signal</tspan></text><text y="53.56" font-size="11.1" transform="scale(1,0.9)" fill="#4a4a4a" ><tspan x="651.8">Original signal</tspan></text></g>
<g><path d="M39.4 333.4V584.3H358V333.4" fill="none" stroke="#5a5a5a" stroke-width="1" stroke-linejoin="miter"/><path d="M38.9 333.3H358.5" fill="none" stroke="#8a8a8a" stroke-width="1"/><path d="M103.96 584.3V581.1M103.96 333.4V336.6M168.48 584.3V581.1M168.48 333.4V336.6M232.99 584.3V581.1M232.99 333.4V336.6M297.51 584.3V581.1M297.51 333.4V336.6M39.4 545.7H42.6M358 545.7H354.8M39.4 507.1H42.6M358 507.1H354.8M39.4 468.5H42.6M358 468.5H354.8M39.4 429.9H42.6M358 429.9H354.8M39.4 391.3H42.6M358 391.3H354.8M39.4 352.7H42.6M358 352.7H354.8" stroke="#5a5a5a" stroke-width="1" fill="none"/><path d="M39.4 584.3L126.96 584.3L127.22 584.23L127.47 584.12L127.72 583.88L127.97 583.37L128.22 582.36L128.48 580.47L128.73 577.14L128.98 571.61L129.23 563.02L129.48 550.5L129.74 533.45L129.99 511.86L130.24 486.58L130.49 459.45L130.74 433.24L131 411.21L131.25 396.48L131.5 391.3L131.75 396.48L132 411.21L132.26 433.24L132.51 459.45L132.76 486.58L133.01 511.86L133.26 533.45L133.52 550.5L133.77 563.02L134.02 571.61L134.27 577.14L134.52 580.47L134.78 582.36L135.03 583.37L135.28 583.88L135.53 584.12L135.78 584.23L136.04 584.3L145.06 584.3L145.32 584.23L145.57 584.12L145.82 583.88L146.07 583.37L146.32 582.36L146.58 580.47L146.83 577.14L147.08 571.61L147.33 563.02L147.58 550.5L147.84 533.45L148.09 511.86L148.34 486.58L148.59 459.45L148.84 433.24L149.1 411.21L149.35 396.48L149.6 391.3L149.85 396.48L150.1 411.21L150.36 433.24L150.61 459.45L150.86 486.58L151.11 511.86L151.36 533.45L151.62 550.5L151.87 563.02L152.12 571.61L152.37 577.14L152.62 580.47L152.88 582.36L153.13 583.37L153.38 583.88L153.63 584.12L153.88 584.23L154.14 584.3L162.96 584.3L163.22 584.23L163.47 584.12L163.72 583.88L163.97 583.37L164.22 582.36L164.48 580.47L164.73 577.14L164.98 571.61L165.23 563.02L165.48 550.5L165.74 533.45L165.99 511.86L166.24 486.58L166.49 459.45L166.74 433.24L167 411.21L167.25 396.48L167.5 391.3L167.75 396.48L168 411.21L168.26 433.24L168.51 459.45L168.76 486.58L169.01 511.86L169.26 533.45L169.52 550.5L169.77 563.02L170.02 571.61L170.27 577.14L170.52 580.47L170.78 582.36L171.03 583.37L171.28 583.88L171.53 584.12L171.78 584.23L172.04 584.3L181.96 584.3L182.22 584.23L182.47 584.12L182.72 583.88L182.97 583.37L183.22 582.36L183.48 580.47L183.73 577.14L183.98 571.61L184.23 563.02L184.48 550.5L184.74 533.45L184.99 511.86L185.24 486.58L185.49 459.45L185.74 433.24L186 411.21L186.25 396.48L186.5 391.3L186.75 396.48L187 411.21L187.26 433.24L187.51 459.45L187.76 486.58L188.01 511.86L188.26 533.45L188.52 550.5L188.77 563.02L189.02 571.61L189.27 577.14L189.52 580.47L189.78 582.36L190.03 583.37L190.28 583.88L190.53 584.12L190.78 584.23L191.04 584.3L229.46 584.3L229.72 584.23L229.97 584.12L230.22 583.88L230.47 583.37L230.72 582.36L230.98 580.47L231.23 577.14L231.48 571.61L231.73 563.02L231.98 550.5L232.24 533.45L232.49 511.86L232.74 486.58L232.99 459.45L233.24 433.24L233.5 411.21L233.75 396.48L234 391.3L234.25 396.48L234.5 411.21L234.76 433.24L235.01 459.45L235.26 486.58L235.51 511.86L235.76 533.45L236.02 550.5L236.27 563.02L236.52 571.61L236.77 577.14L237.02 580.47L237.28 582.36L237.53 583.37L237.78 583.88L238.03 584.12L238.28 584.23L238.54 584.3L245.16 584.3L245.42 584.23L245.67 584.12L245.92 583.88L246.17 583.37L246.42 582.36L246.68 580.47L246.93 577.14L247.18 571.61L247.43 563.02L247.68 550.5L247.94 533.45L248.19 511.86L248.44 486.58L248.69 459.45L248.94 433.24L249.2 411.21L249.45 396.48L249.7 391.3L249.95 396.48L250.2 411.21L250.46 433.24L250.71 459.45L250.96 486.58L251.21 511.86L251.46 533.45L251.72 550.5L251.97 563.02L252.22 571.61L252.47 577.14L252.72 580.47L252.98 582.36L253.23 583.37L253.48 583.88L253.73 584.12L253.98 584.23L254.24 584.3L262.56 584.3L262.82 584.23L263.07 584.12L263.32 583.88L263.57 583.37L263.82 582.36L264.08 580.47L264.33 577.14L264.58 571.61L264.83 563.02L265.08 550.5L265.34 533.45L265.59 511.86L265.84 486.58L266.09 459.45L266.34 433.24L266.6 411.21L266.85 396.48L267.1 391.3L267.35 396.48L267.6 411.21L267.86 433.24L268.11 459.45L268.36 486.58L268.61 511.86L268.86 533.45L269.12 550.5L269.37 563.02L269.62 571.61L269.87 577.14L270.12 580.47L270.38 582.36L270.63 583.37L270.88 583.88L271.13 584.12L271.38 584.23L271.64 584.3L314.96 584.3L315.22 584.23L315.47 584.12L315.72 583.88L315.97 583.37L316.22 582.36L316.48 580.47L316.73 577.14L316.98 571.61L317.23 563.02L317.48 550.5L317.74 533.45L317.99 511.86L318.24 486.58L318.49 459.45L318.74 433.24L319 411.21L319.25 396.48L319.5 391.3L319.75 396.48L320 411.21L320.26 433.24L320.51 459.45L320.76 486.58L321.01 511.86L321.26 533.45L321.52 550.5L321.77 563.02L322.02 571.61L322.27 577.14L322.52 580.47L322.78 582.36L323.03 583.37L323.28 583.88L323.53 584.12L323.78 584.23L324.04 584.3L336.66 584.3L336.92 584.23L337.17 584.12L337.42 583.88L337.67 583.37L337.92 582.36L338.18 580.47L338.43 577.14L338.68 571.61L338.93 563.02L339.18 550.5L339.44 533.45L339.69 511.86L339.94 486.58L340.19 459.45L340.44 433.24L340.7 411.21L340.95 396.48L341.2 391.3L341.45 396.48L341.7 411.21L341.96 433.24L342.21 459.45L342.46 486.58L342.71 511.86L342.96 533.45L343.22 550.5L343.47 563.02L343.72 571.61L343.97 577.14L344.22 580.47L344.48 582.36L344.73 583.37L344.98 583.88L345.23 584.12L345.48 584.23L345.74 584.3L358 584.3" stroke="#36447f" stroke-width="1" fill="none" stroke-linejoin="round"/><path d="M39.4 584.3L43.81 584.3L44.07 584.26L44.32 584.21L44.57 584.09L44.82 583.84L45.07 583.33L45.33 582.39L45.58 580.72L45.83 577.96L46.08 573.66L46.33 567.4L46.59 558.88L46.84 548.08L47.09 535.44L47.34 521.87L47.59 508.77L47.85 497.76L48.1 490.39L48.35 487.8L48.6 490.39L48.85 497.76L49.11 508.77L49.36 521.87L49.61 535.44L49.86 548.08L50.11 558.88L50.37 567.4L50.62 573.66L50.87 577.96L51.12 580.72L51.37 582.39L51.63 583.33L51.88 583.84L52.13 584.09L52.38 584.21L52.63 584.26L52.89 584.3L60.86 584.3L61.12 584.26L61.37 584.21L61.62 584.09L61.87 583.84L62.12 583.33L62.38 582.39L62.63 580.72L62.88 577.96L63.13 573.66L63.38 567.4L63.64 558.88L63.89 548.08L64.14 535.44L64.39 521.87L64.64 508.77L64.9 497.76L65.15 490.39L65.4 487.8L65.65 490.39L65.9 497.76L66.16 508.77L66.41 521.87L66.66 535.44L66.91 548.08L67.16 558.88L67.42 567.4L67.67 573.66L67.92 577.96L68.17 580.72L68.42 582.39L68.68 583.33L68.93 583.84L69.18 584.09L69.43 584.21L69.68 584.26L69.94 584.3L78.26 584.3L78.52 584.26L78.77 584.21L79.02 584.09L79.27 583.84L79.52 583.33L79.78 582.39L80.03 580.72L80.28 577.96L80.53 573.66L80.78 567.4L81.04 558.88L81.29 548.08L81.54 535.44L81.79 521.87L82.04 508.77L82.3 497.76L82.55 490.39L82.8 487.8L83.05 490.39L83.3 497.76L83.56 508.77L83.81 521.87L84.06 535.44L84.31 548.08L84.56 558.88L84.82 567.4L85.07 573.66L85.32 577.96L85.57 580.72L85.82 582.39L86.08 583.33L86.33 583.84L86.58 584.09L86.83 584.21L87.08 584.26L87.34 584.3L96.26 584.3L96.52 584.26L96.77 584.21L97.02 584.09L97.27 583.84L97.52 583.33L97.78 582.39L98.03 580.72L98.28 577.96L98.53 573.66L98.78 567.4L99.04 558.88L99.29 548.08L99.54 535.44L99.79 521.87L100.04 508.77L100.3 497.76L100.55 490.39L100.8 487.8L101.05 490.39L101.3 497.76L101.56 508.77L101.81 521.87L102.06 535.44L102.31 548.08L102.56 558.88L102.82 567.4L103.07 573.66L103.32 577.96L103.57 580.72L103.82 582.39L104.08 583.33L104.33 583.84L104.58 584.09L104.83 584.21L105.08 584.26L105.34 584.3L113.56 584.3L113.82 584.26L114.07 584.21L114.32 584.09L114.57 583.84L114.82 583.33L115.08 582.39L115.33 580.72L115.58 577.96L115.83 573.66L116.08 567.4L116.34 558.88L116.59 548.08L116.84 535.44L117.09 521.87L117.34 508.77L117.6 497.76L117.85 490.39L118.1 487.8L118.35 490.39L118.6 497.76L118.86 508.77L119.11 521.87L119.36 535.44L119.61 548.08L119.86 558.88L120.12 567.4L120.37 573.66L120.62 577.96L120.87 580.72L121.12 582.39L121.38 583.33L121.63 583.84L121.88 584.09L122.13 584.21L122.38 584.26L122.64 584.3L130.86 584.3L131.12 584.26L131.37 584.21L131.62 584.09L131.87 583.84L132.12 583.33L132.38 582.39L132.63 580.72L132.88 577.96L133.13 573.66L133.38 567.4L133.64 558.88L133.89 548.08L134.14 535.44L134.39 521.87L134.64 508.77L134.9 497.76L135.15 490.39L135.4 487.8L135.65 490.39L135.9 497.76L136.16 508.77L136.41 521.87L136.66 535.44L136.91 548.08L137.16 558.88L137.42 567.4L137.67 573.66L137.92 577.96L138.17 580.72L138.42 582.39L138.68 583.33L138.93 583.84L139.18 584.09L139.43 584.21L139.68 584.26L139.94 584.3L147.36 584.3L147.62 584.26L147.87 584.21L148.12 584.09L148.37 583.84L148.62 583.33L148.88 582.39L149.13 580.72L149.38 577.96L149.63 573.66L149.88 567.4L150.14 558.88L150.39 548.08L150.64 535.44L150.89 521.87L151.14 508.77L151.4 497.76L151.65 490.39L151.9 487.8L152.15 490.39L152.4 497.76L152.66 508.77L152.91 521.87L153.16 535.44L153.41 548.08L153.66 558.88L153.92 567.4L154.17 573.66L154.42 577.96L154.67 580.72L154.92 582.39L155.18 583.33L155.43 583.84L155.68 584.09L155.93 584.21L156.18 584.26L156.44 584.3L164.46 584.3L164.72 584.26L164.97 584.21L165.22 584.09L165.47 583.84L165.72 583.33L165.98 582.39L166.23 580.72L166.48 577.96L166.73 573.66L166.98 567.4L167.24 558.88L167.49 548.08L167.74 535.44L167.99 521.87L168.24 508.77L168.5 497.76L168.75 490.39L169 487.8L169.25 490.39L169.5 497.76L169.76 508.77L170.01 521.87L170.26 535.44L170.51 548.08L170.76 558.88L171.02 567.4L171.27 573.66L171.52 577.96L171.77 580.72L172.02 582.39L172.28 583.33L172.53 583.84L172.78 584.09L173.03 584.21L173.28 584.26L173.54 584.3L180.66 584.3L180.92 584.26L181.17 584.21L181.42 584.09L181.67 583.84L181.92 583.33L182.18 582.39L182.43 580.72L182.68 577.96L182.93 573.66L183.18 567.4L183.44 558.88L183.69 548.08L183.94 535.44L184.19 521.87L184.44 508.77L184.7 497.76L184.95 490.39L185.2 487.8L185.45 490.39L185.7 497.76L185.96 508.77L186.21 521.87L186.46 535.44L186.71 548.08L186.96 558.88L187.22 567.4L187.47 573.66L187.72 577.96L187.97 580.72L188.22 582.39L188.48 583.33L188.73 583.84L188.98 584.09L189.23 584.21L189.48 584.26L189.74 584.3L196.46 584.3L196.72 584.26L196.97 584.21L197.22 584.09L197.47 583.84L197.72 583.33L197.98 582.39L198.23 580.72L198.48 577.96L198.73 573.66L198.98 567.4L199.24 558.88L199.49 548.08L199.74 535.44L199.99 521.87L200.24 508.77L200.5 497.76L200.75 490.39L201 487.8L201.25 490.39L201.5 497.76L201.76 508.77L202.01 521.87L202.26 535.44L202.51 548.08L202.76 558.88L203.02 567.4L203.27 573.66L203.52 577.96L203.77 580.72L204.02 582.39L204.28 583.33L204.53 583.84L204.78 584.09L205.03 584.21L205.28 584.26L205.54 584.3L213.06 584.3L213.32 584.26L213.57 584.21L213.82 584.09L214.07 583.84L214.32 583.33L214.58 582.39L214.83 580.72L215.08 577.96L215.33 573.66L215.58 567.4L215.84 558.88L216.09 548.08L216.34 535.44L216.59 521.87L216.84 508.77L217.1 497.76L217.35 490.39L217.6 487.8L217.85 490.39L218.1 497.76L218.36 508.77L218.61 521.87L218.86 535.44L219.11 548.08L219.36 558.88L219.62 567.4L219.87 573.66L220.12 577.96L220.37 580.72L220.62 582.39L220.88 583.33L221.13 583.84L221.38 584.09L221.63 584.21L221.88 584.26L222.14 584.3L229.76 584.3L230.02 584.26L230.27 584.21L230.52 584.09L230.77 583.84L231.02 583.33L231.28 582.39L231.53 580.72L231.78 577.96L232.03 573.66L232.28 567.4L232.54 558.88L232.79 548.08L233.04 535.44L233.29 521.87L233.54 508.77L233.8 497.76L234.05 490.39L234.3 487.8L234.55 490.39L234.8 497.76L235.06 508.77L235.31 521.87L235.56 535.44L235.81 548.08L236.06 558.88L236.32 567.4L236.57 573.66L236.82 577.96L237.07 580.72L237.32 582.39L237.58 583.33L237.83 583.84L238.08 584.09L238.33 584.21L238.58 584.26L238.84 584.3L246.56 584.3L246.82 584.26L247.07 584.21L247.32 584.09L247.57 583.84L247.82 583.33L248.08 582.39L248.33 580.72L248.58 577.96L248.83 573.66L249.08 567.4L249.34 558.88L249.59 548.08L249.84 535.44L250.09 521.87L250.34 508.77L250.6 497.76L250.85 490.39L251.1 487.8L251.35 490.39L251.6 497.76L251.86 508.77L252.11 521.87L252.36 535.44L252.61 548.08L252.86 558.88L253.12 567.4L253.37 573.66L253.62 577.96L253.87 580.72L254.12 582.39L254.38 583.33L254.63 583.84L254.88 584.09L255.13 584.21L255.38 584.26L255.64 584.3L263.26 584.3L263.52 584.26L263.77 584.21L264.02 584.09L264.27 583.84L264.52 583.33L264.78 582.39L265.03 580.72L265.28 577.96L265.53 573.66L265.78 567.4L266.04 558.88L266.29 548.08L266.54 535.44L266.79 521.87L267.04 508.77L267.3 497.76L267.55 490.39L267.8 487.8L268.05 490.39L268.3 497.76L268.56 508.77L268.81 521.87L269.06 535.44L269.31 548.08L269.56 558.88L269.82 567.4L270.07 573.66L270.32 577.96L270.57 580.72L270.82 582.39L271.08 583.33L271.33 583.84L271.58 584.09L271.83 584.21L272.08 584.26L272.34 584.3L281.66 584.3L281.92 584.26L282.17 584.21L282.42 584.09L282.67 583.84L282.92 583.33L283.18 582.39L283.43 580.72L283.68 577.96L283.93 573.66L284.18 567.4L284.44 558.88L284.69 548.08L284.94 535.44L285.19 521.87L285.44 508.77L285.7 497.76L285.95 490.39L286.2 487.8L286.45 490.39L286.7 497.76L286.96 508.77L287.21 521.87L287.46 535.44L287.71 548.08L287.96 558.88L288.22 567.4L288.47 573.66L288.72 577.96L288.97 580.72L289.22 582.39L289.48 583.33L289.73 583.84L289.98 584.09L290.23 584.21L290.48 584.26L290.74 584.3L300.06 584.3L300.32 584.26L300.57 584.21L300.82 584.09L301.07 583.84L301.32 583.33L301.58 582.39L301.83 580.72L302.08 577.96L302.33 573.66L302.58 567.4L302.84 558.88L303.09 548.08L303.34 535.44L303.59 521.87L303.84 508.77L304.1 497.76L304.35 490.39L304.6 487.8L304.85 490.39L305.1 497.76L305.36 508.77L305.61 521.87L305.86 535.44L306.11 548.08L306.36 558.88L306.62 567.4L306.87 573.66L307.12 577.96L307.37 580.72L307.62 582.39L307.88 583.33L308.13 583.84L308.38 584.09L308.63 584.21L308.88 584.26L309.14 584.3L316.56 584.3L316.82 584.26L317.07 584.21L317.32 584.09L317.57 583.84L317.82 583.33L318.08 582.39L318.33 580.72L318.58 577.96L318.83 573.66L319.08 567.4L319.34 558.88L319.59 548.08L319.84 535.44L320.09 521.87L320.34 508.77L320.6 497.76L320.85 490.39L321.1 487.8L321.35 490.39L321.6 497.76L321.86 508.77L322.11 521.87L322.36 535.44L322.61 548.08L322.86 558.88L323.12 567.4L323.37 573.66L323.62 577.96L323.87 580.72L324.12 582.39L324.38 583.33L324.63 583.84L324.88 584.09L325.13 584.21L325.38 584.26L325.64 584.3L333.46 584.3L333.72 584.26L333.97 584.21L334.22 584.09L334.47 583.84L334.72 583.33L334.98 582.39L335.23 580.72L335.48 577.96L335.73 573.66L335.98 567.4L336.24 558.88L336.49 548.08L336.74 535.44L336.99 521.87L337.24 508.77L337.5 497.76L337.75 490.39L338 487.8L338.25 490.39L338.5 497.76L338.76 508.77L339.01 521.87L339.26 535.44L339.51 548.08L339.76 558.88L340.02 567.4L340.27 573.66L340.52 577.96L340.77 580.72L341.02 582.39L341.28 583.33L341.53 583.84L341.78 584.09L342.03 584.21L342.28 584.26L342.54 584.3L358 584.3" stroke="#cc4a54" stroke-width="1" fill="none" stroke-linejoin="round"/><path d="M39.4 584.3H358" stroke="#444" stroke-opacity="0.4" stroke-width="1"/><ellipse cx="33.97" cy="584.35" rx="1.85" ry="3.2" fill="none" stroke="#4a4a4a" stroke-width="0.95"/><text y="596.96" font-size="11.1" transform="scale(1,0.92)" fill="#4a4a4a" ><tspan x="23.98">.2</tspan></text><ellipse cx="20.65" cy="545.75" rx="1.85" ry="3.2" fill="none" stroke="#4a4a4a" stroke-width="0.95"/><text y="555" font-size="11.1" transform="scale(1,0.92)" fill="#4a4a4a" ><tspan x="23.98">.4</tspan></text><ellipse cx="20.65" cy="507.15" rx="1.85" ry="3.2" fill="none" stroke="#4a4a4a" stroke-width="0.95"/><text y="513.04" font-size="11.1" transform="scale(1,0.92)" fill="#4a4a4a" ><tspan x="23.98">.6</tspan></text><ellipse cx="20.65" cy="468.55" rx="1.85" ry="3.2" fill="none" stroke="#4a4a4a" stroke-width="0.95"/><text y="471.09" font-size="11.1" transform="scale(1,0.92)" fill="#4a4a4a" ><tspan x="23.98">.8</tspan></text><ellipse cx="20.65" cy="429.95" rx="1.85" ry="3.2" fill="none" stroke="#4a4a4a" stroke-width="0.95"/><text y="429.13" font-size="11.1" transform="scale(1,0.92)" fill="#4a4a4a" ><tspan x="30.64">1</tspan></text><text y="387.17" font-size="11.1" transform="scale(1,0.92)" fill="#4a4a4a" ><tspan x="17.32">1.2</tspan></text><ellipse cx="39.44" cy="591.65" rx="1.85" ry="3.2" fill="none" stroke="#4a4a4a" stroke-width="0.95"/><text y="646.85" font-size="11.1" transform="scale(1,0.92)" fill="#4a4a4a" ><tspan x="100.63">5</tspan></text><text y="646.85" font-size="11.1" transform="scale(1,0.92)" fill="#4a4a4a" ><tspan x="161.82">1</tspan></text><ellipse cx="171.81" cy="591.65" rx="1.85" ry="3.2" fill="none" stroke="#4a4a4a" stroke-width="0.95"/><text y="646.85" font-size="11.1" transform="scale(1,0.92)" fill="#4a4a4a" ><tspan x="226.33">15</tspan></text><text y="646.85" font-size="11.1" transform="scale(1,0.92)" fill="#4a4a4a" ><tspan x="290.85">2</tspan></text><ellipse cx="300.84" cy="591.65" rx="1.85" ry="3.2" fill="none" stroke="#4a4a4a" stroke-width="0.95"/><text y="361.22" font-size="18.25" transform="scale(1,0.9)" fill="#2a2a2a" stroke="#fff" stroke-width="0.25" ><tspan x="78.25">Subject P</tspan><tspan x="187.75">2 (CC: </tspan><tspan x="275.35">.55)</tspan></text><ellipse cx="182.28" cy="319.44" rx="2.7" ry="5.15" fill="none" stroke="#2a2a2a" stroke-width="1.13"/><ellipse cx="269.88" cy="319.44" rx="2.7" ry="5.15" fill="none" stroke="#2a2a2a" stroke-width="1.13"/><text y="713.76" font-size="14.5" transform="scale(1,0.85)" fill="#2a2a2a" stroke="#fff" stroke-width="0.15" ><tspan x="124">Time (in seconds)</tspan></text><g transform="translate(12,459.9) rotate(-90)"><text x="0" y="0" font-size="14.5" text-anchor="middle" transform="scale(1,0.85)" fill="#2a2a2a" stroke="#fff" stroke-width="0.15">Detected Peaks</text></g><rect x="204.7" y="336.8" width="149.7" height="24.6" fill="#fff" stroke="#5a5a5a" stroke-width="1"/><path d="M210.1 343.5H237.9" stroke="#36447f" stroke-width="1"/><path d="M210.1 354.6H237.9" stroke="#cc4a54" stroke-width="1"/><text y="385.44" font-size="11.1" transform="scale(1,0.9)" fill="#4a4a4a" ><tspan x="241.4">Decoded signal</tspan></text><text y="398.11" font-size="11.1" transform="scale(1,0.9)" fill="#4a4a4a" ><tspan x="241.4">Original signal</tspan></text></g>
<g><path d="M450 333.4V584.3H768.4V333.4" fill="none" stroke="#5a5a5a" stroke-width="1" stroke-linejoin="miter"/><path d="M449.5 333.3H768.9" fill="none" stroke="#8a8a8a" stroke-width="1"/><path d="M514.44 584.3V581.1M514.44 333.4V336.6M579.1 584.3V581.1M579.1 333.4V336.6M643.75 584.3V581.1M643.75 333.4V336.6M708.41 584.3V581.1M708.41 333.4V336.6M450 545.7H453.2M768.4 545.7H765.2M450 507.1H453.2M768.4 507.1H765.2M450 468.5H453.2M768.4 468.5H765.2M450 429.9H453.2M768.4 429.9H765.2M450 391.3H453.2M768.4 391.3H765.2M450 352.7H453.2M768.4 352.7H765.2" stroke="#5a5a5a" stroke-width="1" fill="none"/><path d="M450 584.3L461.86 584.3L462.12 584.23L462.37 584.12L462.62 583.88L462.87 583.37L463.12 582.36L463.38 580.47L463.63 577.14L463.88 571.61L464.13 563.02L464.38 550.5L464.64 533.45L464.89 511.86L465.14 486.58L465.39 459.45L465.64 433.24L465.9 411.21L466.15 396.48L466.4 391.3L466.65 396.48L466.9 411.21L467.16 433.24L467.41 459.45L467.66 486.58L467.91 511.86L468.16 533.45L468.42 550.5L468.67 563.02L468.92 571.61L469.17 577.14L469.42 580.47L469.68 582.36L469.93 583.37L470.18 583.88L470.43 584.12L470.68 584.23L470.94 584.3L493.16 584.3L493.42 584.23L493.67 584.12L493.92 583.88L494.17 583.37L494.42 582.36L494.68 580.47L494.93 577.14L495.18 571.61L495.43 563.02L495.68 550.5L495.94 533.45L496.19 511.86L496.44 486.58L496.69 459.45L496.94 433.24L497.2 411.21L497.45 396.48L497.7 391.3L497.95 396.48L498.2 411.21L498.46 433.24L498.71 459.45L498.96 486.58L499.21 511.86L499.46 533.45L499.72 550.5L499.97 563.02L500.22 571.61L500.47 577.14L500.72 580.47L500.98 582.36L501.23 583.37L501.48 583.88L501.73 584.12L501.98 584.23L502.24 584.3L526.66 584.3L526.92 584.23L527.17 584.12L527.42 583.88L527.67 583.37L527.92 582.36L528.18 580.47L528.43 577.14L528.68 571.61L528.93 563.02L529.18 550.5L529.44 533.45L529.69 511.86L529.94 486.58L530.19 459.45L530.44 433.24L530.7 411.21L530.95 396.48L531.2 391.3L531.45 396.48L531.7 411.21L531.96 433.24L532.21 459.45L532.46 486.58L532.71 511.86L532.96 533.45L533.22 550.5L533.47 563.02L533.72 571.61L533.97 577.14L534.22 580.47L534.48 582.36L534.73 583.37L534.98 583.88L535.23 584.12L535.48 584.23L535.74 584.27L548.76 584.27L549.02 584.23L549.27 584.12L549.52 583.88L549.77 583.37L550.02 582.36L550.28 580.47L550.53 577.14L550.78 571.61L551.03 563.02L551.28 550.5L551.54 533.45L551.79 511.86L552.04 486.58L552.29 459.45L552.54 433.24L552.8 411.21L553.05 396.48L553.3 391.3L553.55 396.48L553.8 411.21L554.06 433.24L554.31 459.45L554.56 486.58L554.81 511.86L555.06 533.45L555.32 550.5L555.57 563.02L555.82 571.61L556.07 577.14L556.32 580.47L556.58 582.36L556.83 583.37L557.08 583.88L557.33 584.12L557.58 584.23L557.84 584.3L576.06 584.3L576.32 584.23L576.57 584.12L576.82 583.88L577.07 583.37L577.32 582.36L577.58 580.47L577.83 577.14L578.08 571.61L578.33 563.02L578.58 550.5L578.84 533.45L579.09 511.86L579.34 486.58L579.59 459.45L579.84 433.24L580.1 411.21L580.35 396.48L580.6 391.3L580.85 396.48L581.1 411.21L581.36 433.24L581.61 459.45L581.86 486.58L582.11 511.86L582.36 533.45L582.62 550.5L582.87 563.02L583.12 571.61L583.37 577.14L583.62 580.47L583.88 582.36L584.13 583.37L584.38 583.88L584.63 584.12L584.88 584.23L585.14 584.27L622.96 584.27L623.22 584.23L623.47 584.12L623.72 583.88L623.97 583.37L624.22 582.36L624.48 580.47L624.73 577.14L624.98 571.61L625.23 563.02L625.48 550.5L625.74 533.45L625.99 511.86L626.24 486.58L626.49 459.45L626.74 433.24L627 411.21L627.25 396.48L627.5 391.3L627.75 396.48L628 411.21L628.26 433.24L628.51 459.45L628.76 486.58L629.01 511.86L629.26 533.45L629.52 550.5L629.77 563.02L630.02 571.61L630.27 577.14L630.52 580.47L630.78 582.36L631.03 583.37L631.28 583.88L631.53 584.12L631.78 584.23L632.04 584.27L669.76 584.27L670.02 584.23L670.27 584.12L670.52 583.88L670.77 583.37L671.02 582.36L671.28 580.47L671.53 577.14L671.78 571.61L672.03 563.02L672.28 550.5L672.54 533.45L672.79 511.86L673.04 486.58L673.29 459.45L673.54 433.24L673.8 411.21L674.05 396.48L674.3 391.3L674.55 396.48L674.8 411.21L675.06 433.24L675.31 459.45L675.56 486.58L675.81 511.86L676.06 533.45L676.32 550.5L676.57 563.02L676.82 571.61L677.07 577.14L677.32 580.47L677.58 582.36L677.83 583.37L678.08 583.88L678.33 584.12L678.58 584.23L678.84 584.3L700.06 584.3L700.32 584.23L700.57 584.12L700.82 583.88L701.07 583.37L701.32 582.36L701.58 580.47L701.83 577.14L702.08 571.61L702.33 563.02L702.58 550.5L702.84 533.45L703.09 511.86L703.34 486.58L703.59 459.45L703.84 433.24L704.1 411.21L704.35 396.48L704.6 391.3L704.85 396.48L705.1 411.21L705.36 433.24L705.61 459.45L705.86 486.58L706.11 511.86L706.36 533.45L706.62 550.5L706.87 563.02L707.12 571.61L707.37 577.14L707.62 580.47L707.88 582.36L708.13 583.37L708.38 583.88L708.63 584.12L708.88 584.23L709.14 584.27L751.96 584.27L752.22 584.23L752.47 584.12L752.72 583.88L752.97 583.37L753.22 582.36L753.48 580.47L753.73 577.14L753.98 571.61L754.23 563.02L754.48 550.5L754.74 533.45L754.99 511.86L755.24 486.58L755.49 459.45L755.74 433.24L756 411.21L756.25 396.48L756.5 391.3L756.75 396.48L757 411.21L757.26 433.24L757.51 459.45L757.76 486.58L758.01 511.86L758.26 533.45L758.52 550.5L758.77 563.02L759.02 571.61L759.27 577.14L759.52 580.47L759.78 582.36L760.03 583.37L760.28 583.88L760.53 584.12L760.78 584.23L761.04 584.27L768.4 584.3" stroke="#36447f" stroke-width="1" fill="none" stroke-linejoin="round"/><path d="M450 584.3L464.86 584.3L465.12 584.26L465.37 584.21L465.62 584.09L465.87 583.84L466.12 583.33L466.38 582.39L466.63 580.72L466.88 577.96L467.13 573.66L467.38 567.4L467.64 558.88L467.89 548.08L468.14 535.44L468.39 521.87L468.64 508.77L468.9 497.76L469.15 490.39L469.4 487.8L469.65 490.39L469.9 497.76L470.16 508.77L470.41 521.87L470.66 535.44L470.91 548.08L471.16 558.88L471.42 567.4L471.67 573.66L471.92 577.96L472.17 580.72L472.42 582.39L472.68 583.33L472.93 583.84L473.18 584.09L473.43 584.21L473.68 584.26L473.94 584.3L495.26 584.3L495.52 584.26L495.77 584.21L496.02 584.09L496.27 583.84L496.52 583.33L496.78 582.39L497.03 580.72L497.28 577.96L497.53 573.66L497.78 567.4L498.04 558.88L498.29 548.08L498.54 535.44L498.79 521.87L499.04 508.77L499.3 497.76L499.55 490.39L499.8 487.8L500.05 490.39L500.3 497.76L500.56 508.77L500.81 521.87L501.06 535.44L501.31 548.08L501.56 558.88L501.82 567.4L502.07 573.66L502.32 577.96L502.57 580.72L502.82 582.39L503.08 583.33L503.33 583.84L503.58 584.09L503.83 584.21L504.08 584.26L504.34 584.3L521.66 584.3L521.92 584.26L522.17 584.21L522.42 584.09L522.67 583.84L522.92 583.33L523.18 582.39L523.43 580.72L523.68 577.96L523.93 573.66L524.18 567.4L524.44 558.88L524.69 548.08L524.94 535.44L525.19 521.87L525.44 508.77L525.7 497.76L525.95 490.39L526.2 487.8L526.45 490.39L526.7 497.76L526.96 508.77L527.21 521.87L527.46 535.44L527.71 548.08L527.96 558.88L528.22 567.4L528.47 573.66L528.72 577.96L528.97 580.72L529.22 582.39L529.48 583.33L529.73 583.84L529.98 584.09L530.23 584.21L530.48 584.26L530.74 584.29L546.86 584.29L547.12 584.26L547.37 584.21L547.62 584.09L547.87 583.84L548.12 583.33L548.38 582.39L548.63 580.72L548.88 577.96L549.13 573.66L549.38 567.4L549.64 558.88L549.89 548.08L550.14 535.44L550.39 521.87L550.64 508.77L550.9 497.76L551.15 490.39L551.4 487.8L551.65 490.39L551.9 497.76L552.16 508.77L552.41 521.87L552.66 535.44L552.91 548.08L553.16 558.88L553.42 567.4L553.67 573.66L553.92 577.96L554.17 580.72L554.42 582.39L554.68 583.33L554.93 583.84L555.18 584.09L555.43 584.21L555.68 584.26L555.94 584.3L573.96 584.29L574.22 584.26L574.47 584.21L574.72 584.09L574.97 583.84L575.22 583.33L575.48 582.39L575.73 580.72L575.98 577.96L576.23 573.66L576.48 567.4L576.74 558.88L576.99 548.08L577.24 535.44L577.49 521.87L577.74 508.77L578 497.76L578.25 490.39L578.5 487.8L578.75 490.39L579 497.76L579.26 508.77L579.51 521.87L579.76 535.44L580.01 548.08L580.26 558.88L580.52 567.4L580.77 573.66L581.02 577.96L581.27 580.72L581.52 582.39L581.78 583.33L582.03 583.84L582.28 584.09L582.53 584.21L582.78 584.26L583.04 584.29L599.46 584.29L599.72 584.26L599.97 584.21L600.22 584.09L600.47 583.84L600.72 583.33L600.98 582.39L601.23 580.72L601.48 577.96L601.73 573.66L601.98 567.4L602.24 558.88L602.49 548.08L602.74 535.44L602.99 521.87L603.24 508.77L603.5 497.76L603.75 490.39L604 487.8L604.25 490.39L604.5 497.76L604.76 508.77L605.01 521.87L605.26 535.44L605.51 548.08L605.76 558.88L606.02 567.4L606.27 573.66L606.52 577.96L606.77 580.72L607.02 582.39L607.28 583.33L607.53 583.84L607.78 584.09L608.03 584.21L608.28 584.26L608.54 584.29L635.96 584.29L636.22 584.26L636.47 584.21L636.72 584.09L636.97 583.84L637.22 583.33L637.48 582.39L637.73 580.72L637.98 577.96L638.23 573.66L638.48 567.4L638.74 558.88L638.99 548.08L639.24 535.44L639.49 521.87L639.74 508.77L640 497.76L640.25 490.39L640.5 487.8L640.75 490.39L641 497.76L641.26 508.77L641.51 521.87L641.76 535.44L642.01 548.08L642.26 558.88L642.52 567.4L642.77 573.66L643.02 577.96L643.27 580.72L643.52 582.39L643.78 583.33L644.03 583.84L644.28 584.09L644.53 584.21L644.78 584.26L645.04 584.29L652.26 584.29L652.52 584.26L652.77 584.21L653.02 584.09L653.27 583.84L653.52 583.33L653.78 582.39L654.03 580.72L654.28 577.96L654.53 573.66L654.78 567.4L655.04 558.88L655.29 548.08L655.54 535.44L655.79 521.87L656.04 508.77L656.3 497.76L656.55 490.39L656.8 487.8L657.05 490.39L657.3 497.76L657.56 508.77L657.81 521.87L658.06 535.44L658.31 548.08L658.56 558.88L658.82 567.4L659.07 573.66L659.32 577.96L659.57 580.72L659.82 582.39L660.08 583.33L660.33 583.84L660.58 584.09L660.83 584.21L661.08 584.26L661.34 584.3L677.86 584.29L678.12 584.26L678.37 584.21L678.62 584.09L678.87 583.84L679.12 583.33L679.38 582.39L679.63 580.72L679.88 577.96L680.13 573.66L680.38 567.4L680.64 558.88L680.89 548.08L681.14 535.44L681.39 521.87L681.64 508.77L681.9 497.76L682.15 490.39L682.4 487.8L682.65 490.39L682.9 497.76L683.16 508.77L683.41 521.87L683.66 535.44L683.91 548.08L684.16 558.88L684.42 567.4L684.67 573.66L684.92 577.96L685.17 580.72L685.42 582.39L685.68 583.33L685.93 583.84L686.18 584.09L686.43 584.21L686.68 584.26L686.94 584.3L702.96 584.29L703.22 584.26L703.47 584.21L703.72 584.09L703.97 583.84L704.22 583.33L704.48 582.39L704.73 580.72L704.98 577.96L705.23 573.66L705.48 567.4L705.74 558.88L705.99 548.08L706.24 535.44L706.49 521.87L706.74 508.77L707 497.76L707.25 490.39L707.5 487.8L707.75 490.39L708 497.76L708.26 508.77L708.51 521.87L708.76 535.44L709.01 548.08L709.26 558.88L709.52 567.4L709.77 573.66L710.02 577.96L710.27 580.72L710.52 582.39L710.78 583.33L711.03 583.84L711.28 584.09L711.53 584.21L711.78 584.26L712.04 584.29L739.06 584.3L739.32 584.26L739.57 584.21L739.82 584.09L740.07 583.84L740.32 583.33L740.58 582.39L740.83 580.72L741.08 577.96L741.33 573.66L741.58 567.4L741.84 558.88L742.09 548.08L742.34 535.44L742.59 521.87L742.84 508.77L743.1 497.76L743.35 490.39L743.6 487.8L743.85 490.39L744.1 497.76L744.36 508.77L744.61 521.87L744.86 535.44L745.11 548.08L745.36 558.88L745.62 567.4L745.87 573.66L746.12 577.96L746.37 580.72L746.62 582.39L746.88 583.33L747.13 583.84L747.38 584.09L747.63 584.21L747.88 584.26L748.14 584.29L768.4 584.3" stroke="#cc4a54" stroke-width="1" fill="none" stroke-linejoin="round"/><path d="M450 584.3H768.4" stroke="#444" stroke-opacity="0.4" stroke-width="1"/><ellipse cx="444.57" cy="584.35" rx="1.85" ry="3.2" fill="none" stroke="#4a4a4a" stroke-width="0.95"/><text y="596.96" font-size="11.1" transform="scale(1,0.92)" fill="#4a4a4a" ><tspan x="434.58">.2</tspan></text><ellipse cx="431.25" cy="545.75" rx="1.85" ry="3.2" fill="none" stroke="#4a4a4a" stroke-width="0.95"/><text y="555" font-size="11.1" transform="scale(1,0.92)" fill="#4a4a4a" ><tspan x="434.58">.4</tspan></text><ellipse cx="431.25" cy="507.15" rx="1.85" ry="3.2" fill="none" stroke="#4a4a4a" stroke-width="0.95"/><text y="513.04" font-size="11.1" transform="scale(1,0.92)" fill="#4a4a4a" ><tspan x="434.58">.6</tspan></text><ellipse cx="431.25" cy="468.55" rx="1.85" ry="3.2" fill="none" stroke="#4a4a4a" stroke-width="0.95"/><text y="471.09" font-size="11.1" transform="scale(1,0.92)" fill="#4a4a4a" ><tspan x="434.58">.8</tspan></text><ellipse cx="431.25" cy="429.95" rx="1.85" ry="3.2" fill="none" stroke="#4a4a4a" stroke-width="0.95"/><text y="429.13" font-size="11.1" transform="scale(1,0.92)" fill="#4a4a4a" ><tspan x="441.24">1</tspan></text><text y="387.17" font-size="11.1" transform="scale(1,0.92)" fill="#4a4a4a" ><tspan x="427.92">1.2</tspan></text><ellipse cx="449.78" cy="591.65" rx="1.85" ry="3.2" fill="none" stroke="#4a4a4a" stroke-width="0.95"/><text y="646.85" font-size="11.1" transform="scale(1,0.92)" fill="#4a4a4a" ><tspan x="511.11">5</tspan></text><text y="646.85" font-size="11.1" transform="scale(1,0.92)" fill="#4a4a4a" ><tspan x="572.44">1</tspan></text><ellipse cx="582.43" cy="591.65" rx="1.85" ry="3.2" fill="none" stroke="#4a4a4a" stroke-width="0.95"/><text y="646.85" font-size="11.1" transform="scale(1,0.92)" fill="#4a4a4a" ><tspan x="637.09">15</tspan></text><text y="646.85" font-size="11.1" transform="scale(1,0.92)" fill="#4a4a4a" ><tspan x="701.75">2</tspan></text><ellipse cx="711.74" cy="591.65" rx="1.85" ry="3.2" fill="none" stroke="#4a4a4a" stroke-width="0.95"/><text y="361.22" font-size="18.25" transform="scale(1,0.9)" fill="#2a2a2a" stroke="#fff" stroke-width="0.25" ><tspan x="488.75">Subject P</tspan><tspan x="598.25">4 (CC: </tspan><tspan x="685.85">.17)</tspan></text><ellipse cx="592.78" cy="319.44" rx="2.7" ry="5.15" fill="none" stroke="#2a2a2a" stroke-width="1.13"/><ellipse cx="680.38" cy="319.44" rx="2.7" ry="5.15" fill="none" stroke="#2a2a2a" stroke-width="1.13"/><text y="713.76" font-size="14.5" transform="scale(1,0.85)" fill="#2a2a2a" stroke="#fff" stroke-width="0.15" ><tspan x="534.5">Time (in seconds)</tspan></text><g transform="translate(422.6,459.9) rotate(-90)"><text x="0" y="0" font-size="14.5" text-anchor="middle" transform="scale(1,0.85)" fill="#2a2a2a" stroke="#fff" stroke-width="0.15">Detected Peaks</text></g><rect x="615.1" y="336.8" width="149.7" height="24.6" fill="#fff" stroke="#5a5a5a" stroke-width="1"/><path d="M620.5 343.5H648.3" stroke="#36447f" stroke-width="1"/><path d="M620.5 354.6H648.3" stroke="#cc4a54" stroke-width="1"/><text y="385.44" font-size="11.1" transform="scale(1,0.9)" fill="#4a4a4a" ><tspan x="651.8">Decoded signal</tspan></text><text y="398.11" font-size="11.1" transform="scale(1,0.9)" fill="#4a4a4a" ><tspan x="651.8">Original signal</tspan></text></g>
</g>
</svg></body></html>
